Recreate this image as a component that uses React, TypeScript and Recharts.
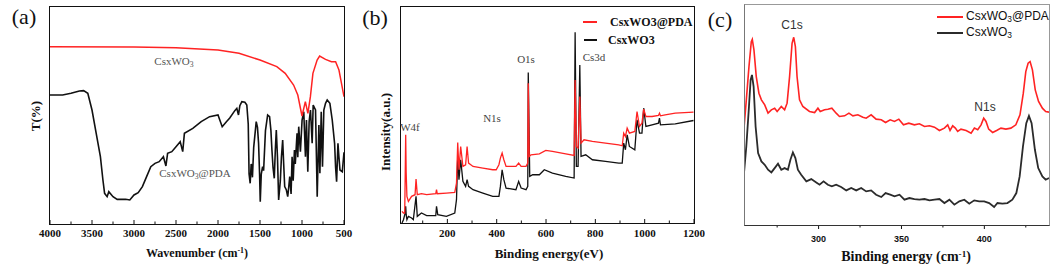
import React from 'react';
import { LineChart, Line, XAxis, YAxis } from 'recharts';

// (a) FTIR, [wavenumber, transmittance a.u.]
const ftirWo3: [number, number][] = [
  [4000, 532], [3000, 531], [2500, 529], [2000, 522], [1750, 512], [1500, 492], [1300, 472],
  [1200, 452], [1100, 417], [1050, 387], [1000, 324], [960, 367], [930, 332], [900, 382],
  [870, 452], [820, 492], [790, 504], [720, 494], [650, 487], [600, 487], [560, 462], [530, 422], [500, 382],
];
const ftirPda: [number, number][] = [
  [4000, 387], [3850, 387], [3750, 392], [3650, 399], [3600, 400], [3550, 392], [3500, 342], [3450, 272],
  [3400, 202], [3370, 132], [3350, 92], [3320, 82], [3300, 97], [3250, 82], [3200, 74], [3100, 74],
  [3050, 72], [3000, 87], [2950, 94], [2900, 112], [2850, 142], [2800, 172], [2750, 182], [2700, 187],
  [2650, 202], [2620, 174], [2600, 212], [2550, 217], [2500, 232], [2450, 247], [2420, 217], [2400, 272],
  [2300, 287], [2200, 307], [2100, 322], [2000, 327], [1950, 292], [1900, 307], [1860, 318], [1800, 340],
  [1776, 347], [1756, 327], [1740, 355], [1716, 367], [1680, 365], [1657, 357], [1640, 300], [1630, 150],
  [1617, 122], [1605, 180], [1597, 172], [1590, 140], [1575, 230], [1545, 307], [1530, 290], [1517, 242],
  [1505, 150], [1497, 67], [1485, 150], [1469, 172], [1457, 160], [1435, 280], [1409, 327], [1386, 322],
  [1370, 280], [1358, 222], [1345, 170], [1330, 137], [1318, 220], [1306, 282], [1292, 200], [1278, 72],
  [1258, 130], [1245, 200], [1230, 252], [1218, 180], [1206, 112], [1186, 102], [1170, 82], [1158, 110],
  [1146, 142], [1130, 90], [1118, 202], [1105, 130], [1090, 222], [1080, 180], [1059, 272], [1050, 200],
  [1039, 292], [1019, 217], [999, 312], [979, 337], [959, 202], [947, 312], [931, 157], [915, 307],
  [899, 342], [879, 242], [867, 357], [839, 342], [819, 82], [799, 297], [787, 152], [771, 337],
  [756, 172], [740, 342], [720, 362], [700, 372], [668, 362], [640, 312], [612, 242], [600, 170],
  [588, 127], [572, 242], [560, 200], [548, 162], [520, 157], [500, 215],
];
const ftirTicks = [4000, 3750, 3500, 3250, 3000, 2750, 2500, 2250, 2000, 1750, 1500, 1250, 1000, 750, 500];
const ftirLabels = [4000, 3500, 3000, 2500, 2000, 1500, 1000, 500];

// (b) XPS survey, [binding energy eV, intensity a.u.]
const surveyPda: [number, number][] = [
  [16, 35], [22, 30], [27, 30], [29, 140], [31, 265], [33, 150], [36, 80], [42, 65], [55, 80], [69, 85],
  [73, 132], [78, 85], [95, 88], [116, 85], [153, 88], [156, 100], [159, 88], [196, 90], [230, 92],
  [237, 120], [242, 242], [247, 160], [254, 230], [263, 170], [274, 175], [280, 230], [286, 180],
  [304, 170], [344, 165], [384, 160], [398, 160], [409, 175], [415, 195], [422, 210], [429, 190],
  [438, 170], [478, 170], [489, 180], [499, 170], [519, 170], [526, 180], [528, 420], [532, 200],
  [539, 205], [573, 208], [599, 218], [626, 215], [680, 208], [714, 203], [718, 430], [723, 230],
  [730, 225], [737, 380], [742, 240], [754, 250], [788, 245], [841, 240], [895, 235], [909, 232],
  [915, 270], [922, 260], [929, 285], [938, 270], [960, 275], [969, 335], [979, 290], [989, 300],
  [996, 342], [1005, 320], [1030, 320], [1056, 323], [1060, 330], [1064, 322], [1083, 325], [1124, 330], [1198, 333],
];
const surveyWo3: [number, number][] = [
  [16, 0], [22, 10], [29, 30], [31, 50], [33, 25], [36, 10], [42, 20], [55, 15], [62, 10], [73, 80],
  [78, 20], [95, 30], [116, 22], [153, 22], [156, 50], [161, 25], [196, 20], [230, 30], [237, 70],
  [242, 200], [247, 130], [254, 190], [263, 125], [274, 110], [280, 130], [286, 110], [304, 100],
  [344, 90], [384, 80], [409, 80], [415, 110], [422, 160], [429, 130], [438, 105], [478, 100],
  [489, 125], [499, 105], [519, 100], [526, 110], [528, 452], [534, 140], [546, 145], [573, 145],
  [593, 160], [626, 150], [680, 140], [714, 135], [718, 573], [723, 170], [730, 170], [737, 475],
  [742, 200], [761, 205], [788, 190], [841, 185], [895, 180], [909, 180], [915, 240], [922, 220],
  [929, 265], [938, 230], [960, 220], [969, 310], [979, 270], [989, 270], [996, 345], [1005, 290],
  [1030, 295], [1056, 300], [1060, 315], [1064, 295], [1124, 298], [1198, 308],
];
const surveyTicks = [100, 200, 300, 400, 500, 600, 700, 800, 900, 1000, 1100, 1200];
const surveyLabels = [200, 400, 600, 800, 1000, 1200];

// (c) XPS narrow scan
const narrowPda: [number, number][] = [
  [255, 291], [256.4, 376], [258, 476], [259.4, 551], [260, 558], [261, 526], [262.4, 446], [264, 396],
  [265.5, 376], [267.5, 361], [269.5, 336], [271.5, 346], [273.5, 351], [275, 341], [277.5, 356],
  [279.5, 346], [281, 366], [282.5, 446], [284, 546], [285, 564], [286, 536], [287, 446], [288.5, 376],
  [290.5, 356], [294.5, 341], [297.6, 338], [299.6, 351], [301, 341], [303.6, 346], [305.6, 348],
  [308, 351], [310.6, 336], [312.6, 326], [315.7, 328], [318.3, 336], [320.7, 328], [323.7, 331],
  [326.7, 324], [328.7, 321], [331.7, 331], [334.7, 318], [337.8, 316], [340.4, 308], [343.2, 316],
  [345.8, 311], [348.4, 318], [351.2, 301], [354.4, 306], [357.8, 301], [360.8, 304], [363.9, 296],
  [366.9, 298], [369.9, 294], [372.9, 284], [375.9, 291], [377.9, 301], [379.3, 284], [380.9, 298],
  [382.5, 291], [383.9, 281], [385.9, 288], [389, 284], [392, 276], [394, 291], [396, 286], [398, 301],
  [399.6, 321], [401, 311], [402.6, 288], [405, 278], [407.4, 284], [410, 291], [413, 288], [416, 291],
  [419, 301], [421.5, 331], [423.5, 396], [425, 461], [426.4, 486], [427.6, 491], [429, 466],
  [430.7, 406], [432.7, 371], [435, 351], [437, 341], [439, 339],
];
const narrowWo3: [number, number][] = [
  [255, 156], [256.4, 236], [258, 356], [259, 436], [259.8, 451], [260.8, 416], [262, 296], [263.5, 216],
  [265.5, 191], [267.5, 181], [269.5, 166], [271.5, 158], [273.5, 171], [275.5, 184], [277.5, 166],
  [279.5, 171], [281.5, 166], [283, 196], [284.5, 218], [286, 201], [287.5, 166], [289.5, 151],
  [292.6, 131], [295.6, 138], [298.6, 128], [300.6, 121], [303, 131], [305.6, 121], [308, 116],
  [310.6, 121], [313.6, 114], [316.7, 104], [319.7, 111], [322.7, 104], [325.7, 111], [328.7, 101],
  [331.7, 104], [334.7, 91], [337.8, 84], [340.4, 96], [343.2, 91], [345.8, 86], [348.8, 91],
  [351.8, 76], [354.8, 81], [357.8, 78], [360.8, 76], [363.9, 78], [366.9, 74], [369.9, 76],
  [372.9, 78], [375.9, 66], [378.9, 76], [381.9, 61], [384.9, 71], [387.9, 76], [390.9, 64],
  [393.9, 74], [396.9, 71], [399.9, 71], [402.9, 66], [405.9, 54], [407.9, 66], [410.9, 64],
  [413.9, 66], [416.9, 76], [419.3, 96], [421.3, 146], [423.3, 236], [425.3, 306], [426.9, 328],
  [428.5, 306], [430.5, 226], [432.5, 171], [435, 146], [437, 136], [439, 141],
];
const narrowTicks = [275, 300, 325, 350, 375, 400, 425];
const narrowLabels = [300, 350, 400];

const RED = '#ff2323';
const BLACK = '#111';
const SERIF = '"Liberation Serif", "Times New Roman", serif';
const SANS = '"Liberation Sans", Arial, sans-serif';

const pts = (arr: [number, number][]) => arr.map(([x, v]) => ({ x, v }));

function axisTick(labels: number[], inward: boolean, font: string, size: number, dy: number) {
  return (props: any) => {
    const { x, y, payload } = props;
    const major = labels.includes(payload.value);
    const len = major ? 4 : 2.5;
    return (
      <g>
        <line x1={x} x2={x} y1={y} y2={inward ? y - len : y + len} stroke={BLACK} strokeWidth={1} />
        {major && (
          <text x={x} y={y + dy} textAnchor="middle" fontFamily={font} fontWeight="bold" fontSize={size} fill={BLACK}>
            {payload.value}
          </text>
        )}
      </g>
    );
  };
}

function Txt(props: {
  x: number; y: number; size: number; family?: string; weight?: string; color?: string;
  rotate?: boolean; start?: boolean; children: React.ReactNode;
}) {
  const { x, y, size, family = SERIF, weight = 'normal', color = BLACK, rotate, start, children } = props;
  return (
    <div
      style={{
        position: 'absolute', left: x, top: y, fontSize: size, fontFamily: family, fontWeight: weight as any,
        color, whiteSpace: 'nowrap', lineHeight: 1,
        transform: `translate(${start ? '0' : '-50%'}, -50%)${rotate ? ' rotate(-90deg)' : ''}`,
      }}
    >
      {children}
    </div>
  );
}

const Sub = ({ c }: { c: string }) => <sub style={{ fontSize: '0.7em', verticalAlign: '-0.25em' }}>{c}</sub>;
const Sup = ({ c }: { c: string }) => <sup style={{ fontSize: '0.65em', verticalAlign: '0.5em' }}>{c}</sup>;

function Seg({ x1, x2, y, color, w = 1.5 }: { x1: number; x2: number; y: number; color: string; w?: number }) {
  return <div style={{ position: 'absolute', left: x1, top: y - w / 2, width: x2 - x1, height: w, background: color }} />;
}

function Box({ l, t, w, h, border }: { l: number; t: number; w: number; h: number; border: React.CSSProperties }) {
  return <div style={{ position: 'absolute', left: l, top: t, width: w, height: h, boxSizing: 'border-box', ...border }} />;
}

function FtirPanel() {
  return (
    <div style={{ position: 'absolute', left: 0, top: 0 }}>
      <LineChart width={360} height={266} margin={{ top: 7, right: 16, left: 50, bottom: 0 }}>
        <XAxis
          dataKey="x" type="number" domain={[500, 4000]} reversed ticks={ftirTicks} interval={0}
          height={42} axisLine={false} tickLine={false} tickSize={0} tickMargin={0}
          tick={axisTick(ftirLabels, true, SERIF, 11, 13)} allowDataOverflow
        />
        <YAxis hide type="number" domain={[0, 651]} allowDataOverflow />
        <Line data={pts(ftirPda)} dataKey="v" type="linear" stroke={BLACK} strokeWidth={1.6} dot={false} isAnimationActive={false} />
        <Line data={pts(ftirWo3)} dataKey="v" type="linear" stroke={RED} strokeWidth={1.5} dot={false} isAnimationActive={false} />
      </LineChart>
    </div>
  );
}

function SurveyPanel() {
  return (
    <div style={{ position: 'absolute', left: 360, top: 0 }}>
      <LineChart width={345} height={266} margin={{ top: 7, right: 11, left: 41, bottom: 0 }}>
        <XAxis
          dataKey="x" type="number" domain={[12, 1200]} ticks={surveyTicks} interval={0}
          height={43} axisLine={false} tickLine={false} tickSize={0} tickMargin={0}
          tick={axisTick(surveyLabels, true, SERIF, 11, 14)} allowDataOverflow
        />
        <YAxis hide type="number" domain={[0, 649]} allowDataOverflow />
        <Line data={pts(surveyWo3)} dataKey="v" type="linear" stroke={BLACK} strokeWidth={1.3} dot={false} isAnimationActive={false} />
        <Line data={pts(surveyPda)} dataKey="v" type="linear" stroke={RED} strokeWidth={1.3} dot={false} isAnimationActive={false} />
      </LineChart>
    </div>
  );
}

function NarrowPanel() {
  return (
    <div style={{ position: 'absolute', left: 705, top: 0 }}>
      <LineChart width={347} height={266} margin={{ top: 4, right: 3, left: 39, bottom: 0 }}>
        <XAxis
          dataKey="x" type="number" domain={[255, 439]} ticks={narrowTicks} interval={0}
          height={41} axisLine={false} tickLine={false} tickSize={0} tickMargin={0}
          tick={axisTick(narrowLabels, false, SANS, 9, 17)} allowDataOverflow
        />
        <YAxis hide type="number" domain={[0, 664]} allowDataOverflow />
        <Line data={pts(narrowWo3)} dataKey="v" type="linear" stroke="#2b2b2b" strokeWidth={1.8} dot={false} isAnimationActive={false} />
        <Line data={pts(narrowPda)} dataKey="v" type="linear" stroke={RED} strokeWidth={1.6} dot={false} isAnimationActive={false} />
      </LineChart>
    </div>
  );
}

export default function App() {
  return (
    <div style={{ position: 'absolute', left: 0, top: 0, width: 1052, height: 266, background: '#fff', overflow: 'hidden' }}>
      <FtirPanel />
      <SurveyPanel />
      <NarrowPanel />

      {/* frames */}
      <Box l={49.3} t={6.3} w={295.4} h={218.4} border={{ border: `1.4px solid ${BLACK}` }} />
      <Box l={400.3} t={6.3} w={294.4} h={217.4} border={{ border: `1.4px solid ${BLACK}` }} />
      <Box
        l={743.5} t={3.5} w={306} h={222.5}
        border={{ borderLeft: '1px solid #777', borderTop: '1px solid #999', borderRight: '1px solid #999', borderBottom: `1.4px solid #333` }}
      />

      {/* (a) */}
      <Txt x={24} y={17} size={22}>(a)</Txt>
      <Txt x={35} y={116} size={13} weight="bold" rotate>T(%)</Txt>
      <Txt x={174} y={62} size={11} color="#555">CsxWO<Sub c="3" /></Txt>
      <Txt x={195} y={174} size={11} color="#555">CsxWO<Sub c="3" />@PDA</Txt>
      <Txt x={197} y={253} size={12} weight="bold">Wavenumber (cm<Sup c="-1" />)</Txt>

      {/* (b) */}
      <Txt x={375} y={18} size={22}>(b)</Txt>
      <Txt x={385} y={132} size={13} weight="bold" rotate>Intensity(a.u.)</Txt>
      <Txt x={410} y={127} size={11} color="#444">W4f</Txt>
      <Txt x={492} y={118} size={11} color="#444">N1s</Txt>
      <Txt x={526} y={59} size={11} color="#444">O1s</Txt>
      <Txt x={594} y={57} size={11} color="#444">Cs3d</Txt>
      <Seg x1={583} x2={597} y={22} color={RED} />
      <Txt x={610} y={22} size={12} weight="bold" start>CsxWO3@PDA</Txt>
      <Seg x1={584} x2={597} y={40} color={BLACK} w={1.2} />
      <Txt x={608} y={40} size={12} weight="bold" start>CsxWO3</Txt>
      <Txt x={549} y={253} size={13} weight="bold">Binding energy(eV)</Txt>

      {/* (c) */}
      <Txt x={720} y={20} size={22}>(c)</Txt>
      <Txt x={792} y={25} size={12} family={SANS} color="#333">C1s</Txt>
      <Txt x={985} y={107} size={12} family={SANS} color="#333">N1s</Txt>
      <Seg x1={937} x2={963} y={17} color={RED} />
      <Txt x={966} y={17} size={12} family={SANS} start>CsxWO<Sub c="3" />@PDA</Txt>
      <Seg x1={937} x2={963} y={33} color="#2b2b2b" w={2} />
      <Txt x={966} y={33} size={12} family={SANS} start>CsxWO<Sub c="3" /></Txt>
      <Txt x={906} y={257} size={14} weight="bold">Binding energy (cm<Sup c="-1" />)</Txt>
    </div>
  );
}
